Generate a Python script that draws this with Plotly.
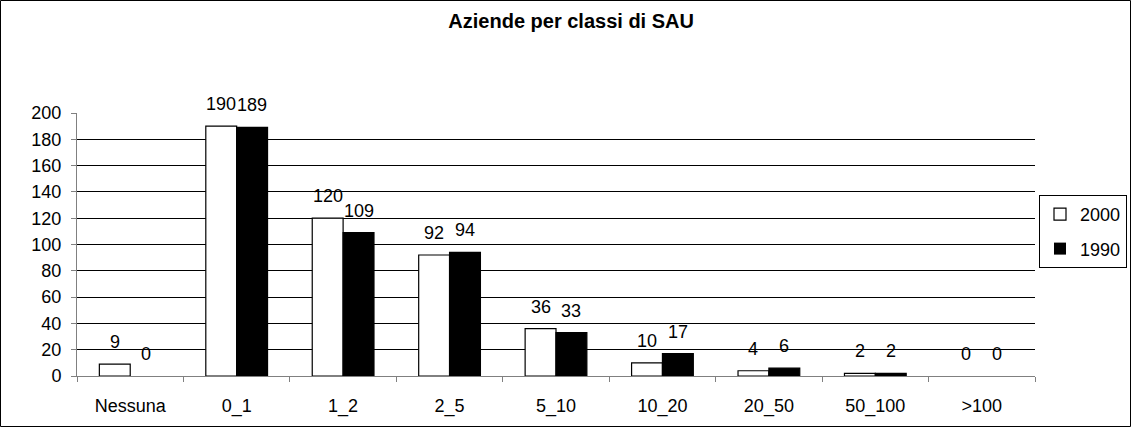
import plotly.graph_objects as go

categories = ["Nessuna", "0_1", "1_2", "2_5", "5_10", "10_20", "20_50", "50_100", ">100"]
values_2000 = [9, 190, 120, 92, 36, 10, 4, 2, 0]
values_1990 = [0, 189, 109, 94, 33, 17, 6, 2, 0]
series_names = ["2000", "1990"]

W, H = 1131, 427
L, R, T, B = 77, 96, 113, 51
pw, ph = W - L - R, H - T - B
FONT = "Liberation Sans, Arial"
FS = 18


def outline(vals):
    return [1.2 if v > 0 else 0 for v in vals]


fig = go.Figure()
fig.add_trace(go.Bar(
    x=categories, y=values_2000, name=series_names[0], legendgroup="a",
    marker=dict(color="white", line=dict(color="black", width=outline(values_2000))),
))
fig.add_trace(go.Bar(
    x=categories, y=values_1990, name=series_names[1], legendgroup="b",
    marker=dict(color="black", line=dict(color="black", width=outline(values_1990))),
))

bargap = 0.42
barw = pw / len(categories) * (1 - bargap) / 2
annotations = []
for vals, sh in ((values_2000, -barw / 2), (values_1990, barw / 2)):
    for c, v in zip(categories, vals):
        annotations.append(dict(x=c, y=v, xref="x", yref="y", text=str(v),
                                showarrow=False, xanchor="center", yanchor="bottom",
                                xshift=sh, yshift=10,
                                font=dict(family=FONT, size=FS, color="black")))


def px_x(p):
    return (p - L) / pw


def px_y(p):
    return (H - B - p) / ph


fig.update_layout(
    width=W, height=H,
    margin=dict(l=L, r=R, t=T, b=B, pad=0, autoexpand=False),
    paper_bgcolor="white", plot_bgcolor="white",
    barmode="group", bargap=bargap, bargroupgap=0,
    font=dict(family=FONT, size=FS, color="black"),
    title=dict(text="<b>Aziende per classi di SAU</b>", x=0.505, xref="container",
               xanchor="center", y=1 - 21 / H, yanchor="middle",
               font=dict(size=20, family=FONT)),
    showlegend=True,
    legend=dict(xref="container", yref="container", x=1039 / W, y=1 - 195 / H,
                xanchor="left", yanchor="top",
                bordercolor="black", borderwidth=1, bgcolor="white",
                font=dict(size=FS), itemwidth=30, tracegroupgap=8),
    xaxis=dict(showline=True, linecolor="#808080", linewidth=1, automargin=False,
               ticks="outside", tickson="boundaries", ticklen=5, tickcolor="#808080",
               tickfont=dict(size=FS), showgrid=False, ticklabelstandoff=13),
    yaxis=dict(range=[0, 200], dtick=20, showline=True, linecolor="#808080", linewidth=1,
               ticks="outside", ticklen=5, tickcolor="#808080", automargin=False,
               showgrid=True, gridcolor="black", gridwidth=1,
               tickfont=dict(size=FS), zeroline=False, ticklabelstandoff=6),
    annotations=annotations,
    shapes=[dict(type="rect", xref="paper", yref="paper",
                 x0=px_x(0.5), x1=px_x(W - 0.5), y0=px_y(H - 0.5), y1=px_y(0.5),
                 line=dict(color="black", width=1), fillcolor="rgba(0,0,0,0)", layer="above")],
)

fig.write_html("out.html", config={"displayModeBar": False},
               post_script="document.body.style.margin='0';document.body.style.overflow='hidden';")
